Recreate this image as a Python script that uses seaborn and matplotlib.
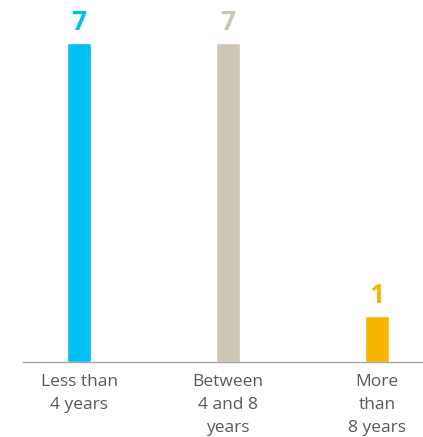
import matplotlib
matplotlib.use("Agg")
import matplotlib.pyplot as plt
import seaborn as sns
import pandas as pd

categories = ["Less than\n4 years", "Between\n4 and 8\nyears", "More\nthan\n8 years"]
values = [7, 7, 1]
colors = ["#00C0F3", "#CEC6B4", "#F7B500"]

sns.set_style("white")
plt.rcParams['font.family'] = ['Open Sans', 'DejaVu Sans']

df = pd.DataFrame({"cat": categories, "val": values})
fig = plt.figure(figsize=(4.23, 4.37), dpi=100)
ax = fig.add_axes([23/423, 75/437, 399/423, 362/437])
sns.barplot(data=df, x="cat", y="val", hue="cat", palette=colors, width=0.161,
            legend=False, ax=ax, saturation=1)
ax.set_xlim(-0.376, 2.302)
ax.set_ylim(0, 7.94)
for c, col in zip(ax.containers, colors):
    ax.bar_label(c, padding=5, color=col, fontsize=19, fontweight='bold')
for s in ["top", "right", "left"]:
    ax.spines[s].set_visible(False)
ax.spines["bottom"].set_color("#A6A6A6")
ax.spines["bottom"].set_linewidth(1)
ax.set_yticks([])
ax.set_xlabel("")
ax.set_ylabel("")
ax.tick_params(axis='x', length=0, pad=9, labelsize=12.5, labelcolor="#595959")
for t in ax.get_xticklabels():
    t.set_linespacing(1.55)
fig.savefig("out.png", dpi=100)
